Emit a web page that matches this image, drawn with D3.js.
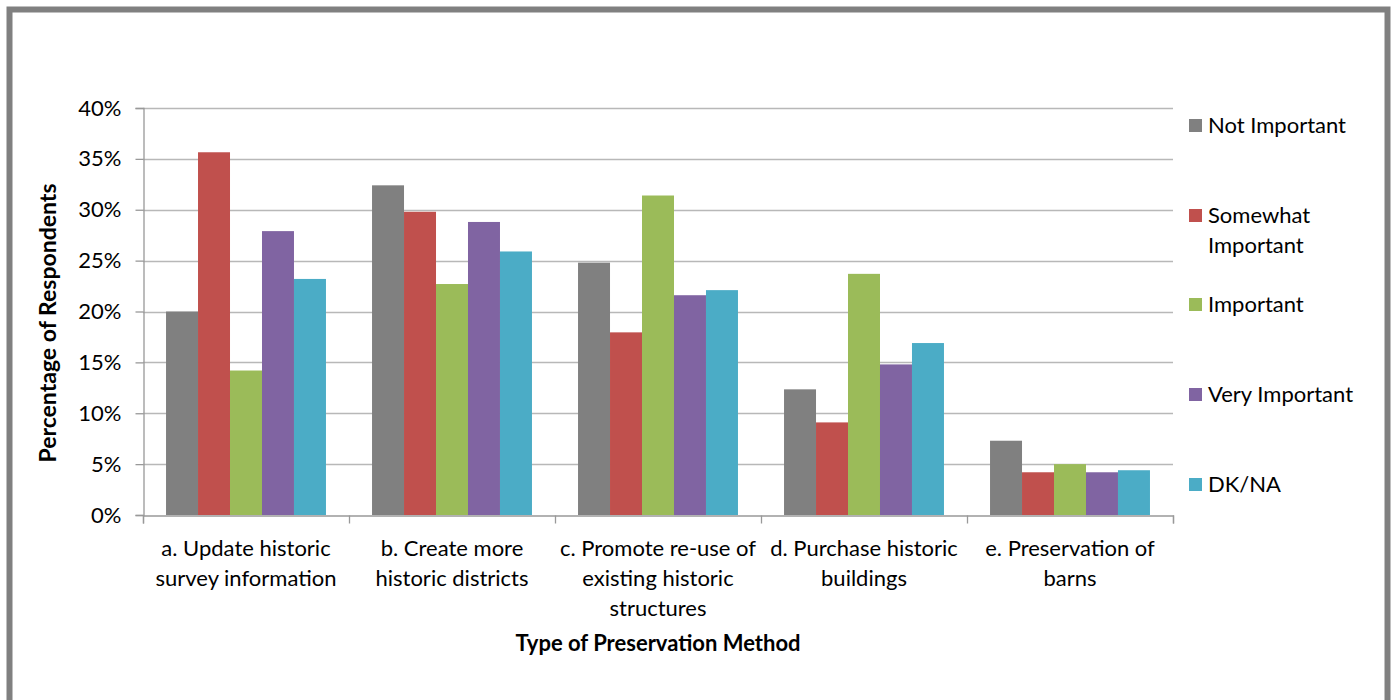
<!DOCTYPE html>
<html><head><meta charset="utf-8">
<script src="https://cdn.jsdelivr.net/npm/d3@7"></script>
<style>body{margin:0;background:#fff;} svg{display:block;} text{font-family:Lato,"Open Sans",sans-serif;fill:#000;}</style>
</head><body>
<svg id="chart" width="1392" height="700"></svg>
<script>
const categories = [
  ["a. Update historic", "survey information"],
  ["b. Create more", "historic districts"],
  ["c. Promote re-use of", "existing historic", "structures"],
  ["d. Purchase historic", "buildings"],
  ["e. Preservation of", "barns"]
];
const seriesNames = ["Not Important", "Somewhat Important", "Important", "Very Important", "DK/NA"];
const seriesColors = ["#808080", "#C0504D", "#9BBB59", "#8064A2", "#4BACC6"];
const notImportant = [20.0, 32.4, 24.8, 12.35, 7.3];
const somewhatImportant = [35.65, 29.8, 17.95, 9.1, 4.2];
const important = [14.2, 22.7, 31.4, 23.7, 5.0];
const veryImportant = [27.9, 28.8, 21.6, 14.8, 4.2];
const dkna = [23.2, 25.9, 22.1, 16.9, 4.4];
const yTicks = [0, 5, 10, 15, 20, 25, 30, 35, 40];
const xTitle = "Type of Preservation Method";
const yTitle = "Percentage of Respondents";

const seriesValues = [notImportant, somewhatImportant, important, veryImportant, dkna];
const svg = d3.select("#chart");

// frame
svg.append("rect").attr("x", 9.5).attr("y", 9.5).attr("width", 1378).attr("height", 720)
  .attr("fill", "none").attr("stroke", "#808080").attr("stroke-width", 6);

const pLeft = 143, pRight = 1173, pTop = 108, pBottom = 515;
const x0 = d3.scaleBand().domain(d3.range(categories.length)).range([pLeft, pRight]).padding(0);
const x1 = d3.scaleBand().domain(d3.range(seriesNames.length)).range([0, x0.bandwidth()]).paddingOuter(0.72).paddingInner(0);
const y = d3.scaleLinear().domain([0, 40]).range([pBottom, pTop]);

// gridlines
svg.append("g").selectAll("line").data(yTicks.filter(t => t > 0)).join("line")
  .attr("x1", pLeft).attr("x2", pRight)
  .attr("y1", d => Math.round(y(d)) + 0.5).attr("y2", d => Math.round(y(d)) + 0.5)
  .attr("stroke", "#b8b8b8").attr("stroke-width", 1.3);

// bars
const groups = svg.append("g").selectAll("g").data(categories).join("g")
  .attr("transform", (d, i) => `translate(${x0(i)},0)`);
groups.selectAll("rect").data((d, i) => seriesValues.map((s, k) => ({k, v: s[i]}))).join("rect")
  .attr("x", d => x1(d.k)).attr("width", x1.bandwidth())
  .attr("y", d => y(d.v)).attr("height", d => y(0) - y(d.v))
  .attr("fill", d => seriesColors[d.k]);

// y axis
const yAxis = d3.axisLeft(y).tickValues(yTicks).tickFormat(d => d + "%").tickSize(8).tickPadding(14);
const yg = svg.append("g").attr("transform", `translate(${pLeft + 0.5},0)`).call(yAxis);
yg.select(".domain").attr("stroke", "#999").attr("stroke-width", 1.3);
yg.selectAll(".tick line").attr("stroke", "#999").attr("stroke-width", 1.3);
yg.selectAll(".tick text").style("font-size", "22px").style("font-family", "Lato, sans-serif").attr("fill", "#000");

// x axis
const xb = d3.scaleLinear().domain([0, categories.length]).range([pLeft, pRight]);
const xg = svg.append("g").attr("transform", `translate(0,${pBottom + 0.5})`)
  .call(d3.axisBottom(xb).tickValues(d3.range(categories.length + 1)).tickSize(8).tickFormat(""));
xg.select(".domain").attr("stroke", "#999").attr("stroke-width", 1.3);
xg.selectAll(".tick line").attr("stroke", "#999").attr("stroke-width", 1.3);

// category labels
categories.forEach((lines, i) => {
  const t = svg.append("text").attr("x", x0(i) + x0.bandwidth() / 2).attr("y", 556)
    .attr("text-anchor", "middle").style("font-size", "22px");
  lines.forEach((l, j) => t.append("tspan").attr("x", x0(i) + x0.bandwidth() / 2).attr("dy", j === 0 ? 0 : 30).text(l));
});

// titles
svg.append("text").attr("x", (pLeft + pRight) / 2).attr("y", 651).attr("text-anchor", "middle")
  .style("font-size", "22px").style("font-weight", "bold").text(xTitle);
svg.append("text").attr("transform", `translate(56,323) rotate(-90)`)
  .attr("text-anchor", "middle").style("font-size", "23px").style("font-weight", "bold").text(yTitle);

// legend
const legendY = [125, 215, 304, 394, 484];
const legendLines = [["Not Important"], ["Somewhat", "Important"], ["Important"], ["Very Important"], ["DK/NA"]];
seriesNames.forEach((n, k) => {
  svg.append("rect").attr("x", 1189).attr("y", legendY[k] - 6).attr("width", 13).attr("height", 13).attr("fill", seriesColors[k]);
  const t = svg.append("text").attr("x", 1208).attr("y", legendY[k] + 8).style("font-size", "22px");
  legendLines[k].forEach((l, j) => t.append("tspan").attr("x", 1208).attr("dy", j === 0 ? 0 : 30).text(l));
});
</script>
</body></html>
